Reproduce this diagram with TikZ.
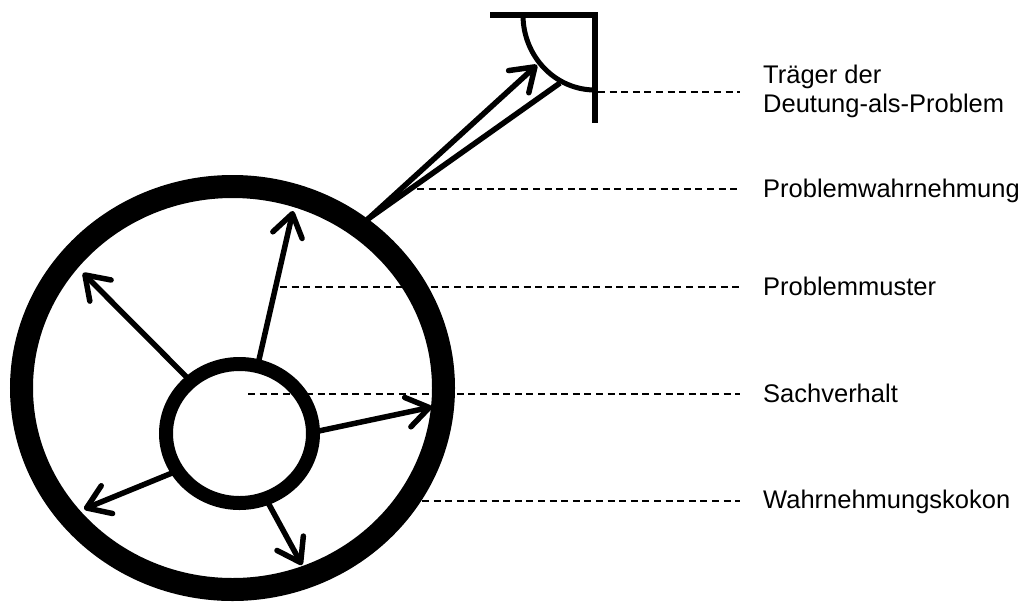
\documentclass[tikz,border=0pt]{standalone}
\usepackage{fontspec}
\setmainfont{Liberation Sans}
\usetikzlibrary{arrows.meta,shapes.geometric}
\begin{document}
\begin{tikzpicture}[x=1pt,y=-1pt,
  ring/.style={draw, ellipse, inner sep=0pt, outer sep=0pt},
  spoke/.style={line width=5.5pt, line cap=round,
    -{Straight Barb[round,length=22pt,width=30pt]}},
  stem/.style={line width=5.5pt},
  leader/.style={line width=1.6pt, dash pattern=on 7pt off 4.6pt},
  lbl/.style={anchor=base west, inner sep=0pt, font=\fontsize{25.5}{29}\selectfont},
]
\useasboundingbox (0,0) rectangle (1022,603);

% leader line end points
\coordinate (s1) at (598,92);  \coordinate (e1) at (740,92);
\coordinate (s2) at (417,189); \coordinate (e2) at (740,189);
\coordinate (s3) at (280,287); \coordinate (e3) at (740,287);
\coordinate (s4) at (248,394); \coordinate (e4) at (740,394);
\coordinate (s5) at (422,501); \coordinate (e5) at (740,501);
\foreach \i in {1,...,5} \draw[leader] (s\i) -- (e\i);

% labels
\node[lbl] (ltraeger) at (763,83) {\begin{tabular}[t]{@{}l@{}}Träger der\\Deutung-als-Problem\end{tabular}};
\node[lbl] (lwahr) at (763,197) {Problemwahrnehmung};
\node[lbl] (lmuster) at (763,295) {Problemmuster};
\node[lbl] (lsach) at (763,402) {Sachverhalt};
\node[lbl] (lkokon) at (763,508) {Wahrnehmungskokon};

% rings
\node[ring, line width=23pt, minimum width=422pt, minimum height=403pt] (kokon) at (232.5,388) {};
\node[ring, line width=14pt, minimum width=147pt, minimum height=139pt] (sach) at (239.5,433.5) {};

% spokes from Sachverhalt to Wahrnehmungskokon
\coordinate (t1) at (293,211);
\coordinate (t2) at (83,273);
\coordinate (t3) at (432,407);
\coordinate (t4) at (84,509);
\coordinate (t5) at (302,565);
\draw[spoke] (sach.75) -- (t1);
\draw[spoke] (sach.133) -- (t2);
\draw[spoke] (sach.1) -- (t3);
\draw[spoke] (sach.211) -- (t4);
\draw[spoke] (sach.292) -- (t5);

% Problemwahrnehmung towards the bearer
\coordinate (p0) at (368,219);
\coordinate (pa) at (537,65);
\coordinate (pb) at (560,83);
\draw[spoke] (p0) -- (pa);
\draw[stem] (p0) -- (pb);

% bearer bracket
\coordinate (b0) at (490,15);
\coordinate (b1) at (595,15);
\coordinate (b2) at (595,123);
\draw[line width=6.5pt, line join=miter] (b0) -- (b1) -- (b2);
\draw[line width=5pt] (523,15) arc[start angle=180, end angle=90, x radius=72, y radius=75];
\end{tikzpicture}
\end{document}
